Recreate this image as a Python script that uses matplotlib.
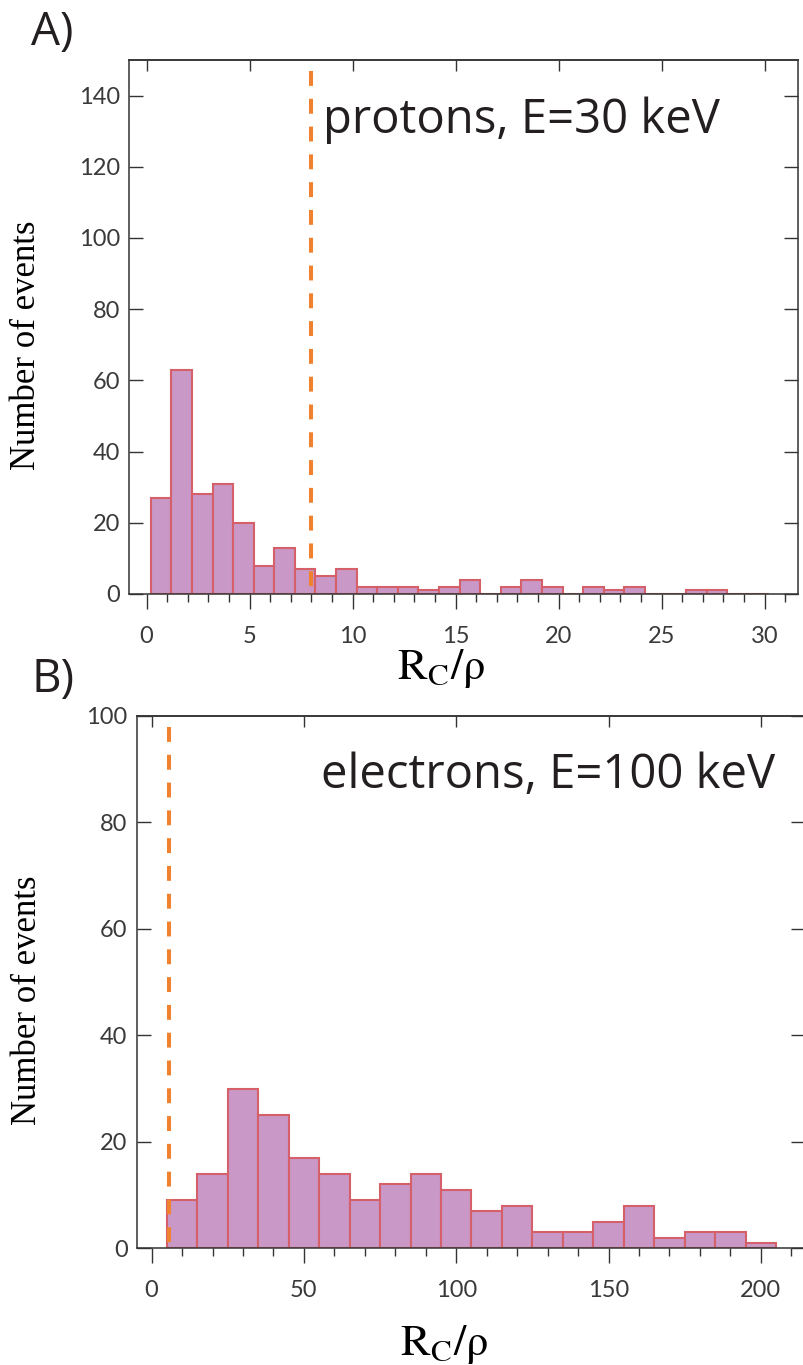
import numpy as np
import matplotlib
matplotlib.use('Agg')
import matplotlib.pyplot as plt
from matplotlib.ticker import MultipleLocator

plt.rcParams['mathtext.fontset'] = 'stix'

# protons, E=30 keV : histogram of Rc/rho, bins of width 1 starting at 0.2
p_bin_start = 0.2
p_bin_width = 1.0
p_counts = [27, 63, 28, 31, 20, 8, 13, 7, 5, 7, 2, 2, 2, 1, 2, 4, 0, 2, 4, 2,
            0, 2, 1, 2, 0, 0, 1, 1, 0, 0]
p_cut = 8.0

# electrons, E=100 keV : bins of width 10 starting at 5
e_bin_start = 5.0
e_bin_width = 10.0
e_counts = [9, 14, 30, 25, 17, 14, 9, 12, 14, 11, 7, 8, 3, 3, 5, 8, 2, 3, 3, 1]
e_cut = 5.6

W, H = 804, 1365
fill = '#c998c6'
edge = '#d6606a'
orange = '#f0822f'
dark = '#333333'
txt = '#231f20'

fig = plt.figure(figsize=(W / 100, H / 100), dpi=100)


def px_axes(x0, x1, ytop, ybot):
    return fig.add_axes([x0 / W, 1 - ybot / H, (x1 - x0) / W, (ybot - ytop) / H])


def style(ax, xmaj, xmin):
    for s in ax.spines.values():
        s.set_linewidth(1.1)
        s.set_color(dark)
    ax.xaxis.set_major_locator(MultipleLocator(xmaj))
    ax.xaxis.set_minor_locator(MultipleLocator(xmin))
    ax.yaxis.set_major_locator(MultipleLocator(20))
    ax.tick_params(axis='x', which='major', direction='out', length=10.8, width=1.0,
                   color=dark, pad=12, labelcolor='#3a3a3a')
    ax.tick_params(axis='x', which='minor', direction='out', length=5.8, width=1.0,
                   color=dark)
    ax.tick_params(axis='y', which='major', direction='in', length=10, width=1.0,
                   color=dark, right=True, pad=7, labelcolor='#3a3a3a')
    for lab in ax.get_xticklabels() + ax.get_yticklabels():
        lab.set_fontfamily('Lato')
        lab.set_fontsize(17)
    top = ax.secondary_xaxis('top')
    top.xaxis.set_major_locator(MultipleLocator(xmaj))
    top.tick_params(direction='in', length=8, width=1.0, color=dark, labeltop=False)
    top.spines['top'].set_linewidth(1.1)
    top.spines['top'].set_color(dark)


def draw_hist(ax, start, width, counts, cut):
    lefts = start + width * np.arange(len(counts))
    ax.bar(lefts, counts, width=width, align='edge', color=fill,
           edgecolor=edge, linewidth=1.5, zorder=2)
    ax.axvline(cut, ymin=0.98, ymax=0.0, color=orange, lw=2.9,
               linestyle=(0, (3.7, 3.2)), zorder=3)


# A) protons
ax1 = px_axes(129.5, 798.3, 60, 594)
draw_hist(ax1, p_bin_start, p_bin_width, p_counts, p_cut)
ax1.set_xlim(-0.83, 31.64)
ax1.set_ylim(0, 150)
style(ax1, 5, 1)
ax1.set_ylabel('Number of events', family='Liberation Serif', fontsize=25, color='black')
ax1.yaxis.set_label_coords(-0.13, 0.466)
ax1.set_xlabel(r'$\mathrm{R_C/\rho}$', fontsize=32, color='black')
ax1.xaxis.set_label_coords(0.466, -0.1)
fig.text(323 / W, 1 - 133 / H, 'protons, E=30 keV', family='Open Sans',
         fontsize=34, color=txt, ha='left', va='baseline')
fig.text(31 / W, 1 - 33 / H, 'A)', family='Open Sans', fontsize=33,
         color=txt, ha='left', va='center')

# B) electrons
ax2 = px_axes(137.3, 805, 716, 1248.3)
draw_hist(ax2, e_bin_start, e_bin_width, e_counts, e_cut)
ax2.set_xlim(-4.7, 214.5)
ax2.set_ylim(0, 100)
style(ax2, 50, 10)
ax2.set_ylabel('Number of events', family='Liberation Serif', fontsize=25, color='black')
ax2.yaxis.set_label_coords(-0.14, 0.466)
ax2.set_xlabel(r'$\mathrm{R_C/\rho}$', fontsize=32, color='black')
ax2.xaxis.set_label_coords(0.459, -0.14)
fig.text(321 / W, 1 - 788 / H, 'electrons, E=100 keV', family='Open Sans',
         fontsize=34, color=txt, ha='left', va='baseline')
fig.text(32 / W, 1 - 680 / H, 'B)', family='Open Sans', fontsize=33,
         color=txt, ha='left', va='center')

fig.savefig('out.png', dpi=100)
